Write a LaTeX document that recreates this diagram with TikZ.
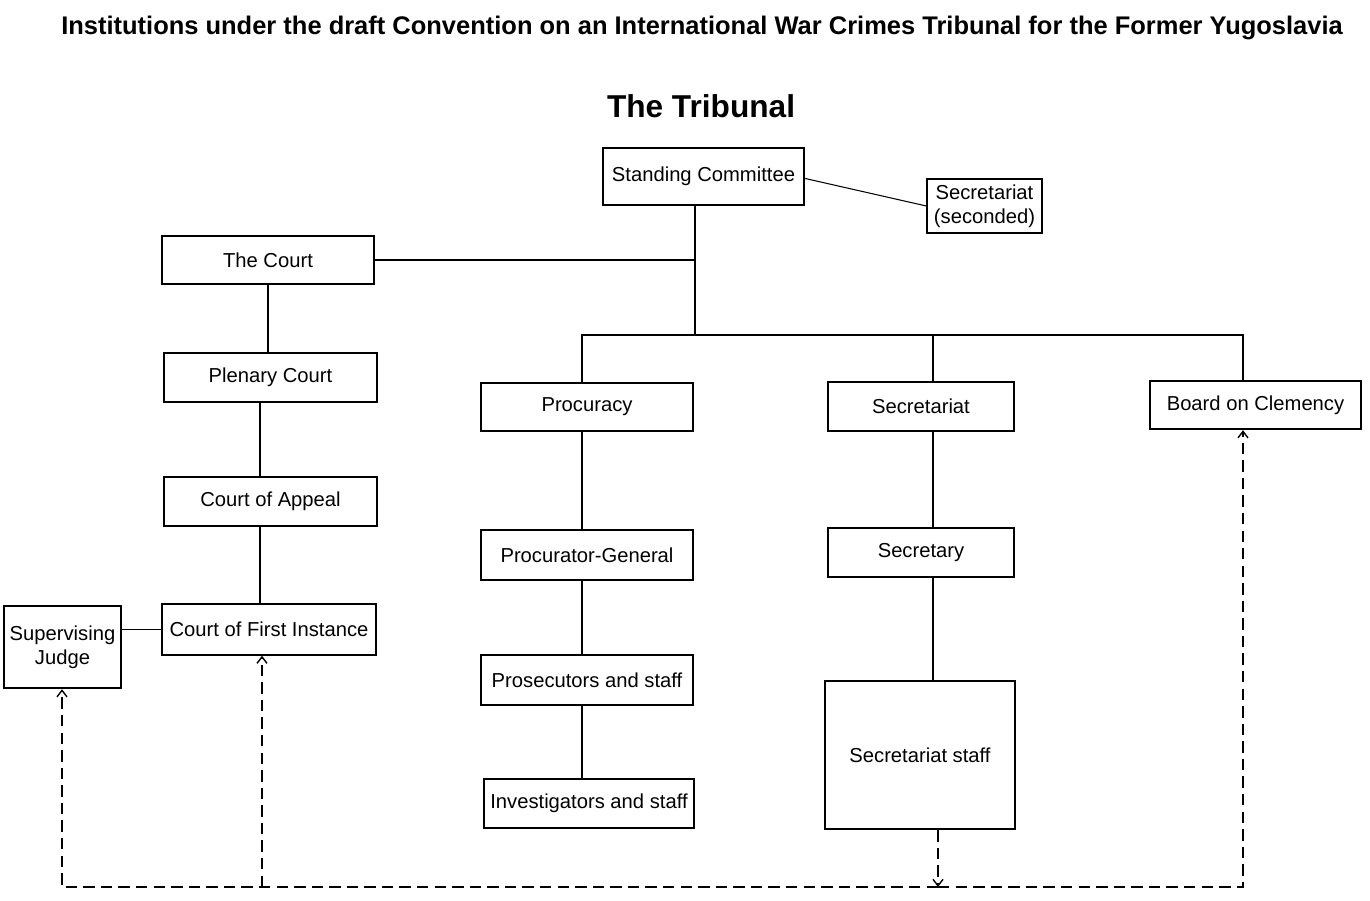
\documentclass[tikz,border=0pt]{standalone}
\usepackage{fontspec}
\setmainfont{Liberation Sans}
\usetikzlibrary{arrows.meta}

\begin{document}
\begin{tikzpicture}[x = 0.02cm, y = -0.02cm,
  box/.style = {rectangle, draw, line width = 0.8pt, align = center, inner sep = 1pt,
    font = \fontsize{11.5}{13.5}\selectfont},
  heavy/.style = {box, line width = 1.4pt},
  link/.style = {line width = 0.6pt},
  flow/.style = {line width = 0.8pt, dash pattern = on 6.5pt off 3.5pt,
    -{Straight Barb[length = 1.3mm, width = 2mm]}}]
  \useasboundingbox (0, 0) rectangle (1370, 901);

  % headings
  \node[font = \bfseries\fontsize{14.5}{17}\selectfont] (title) at (702, 28)
    {Institutions under the draft Convention on an International War Crimes Tribunal for the Former Yugoslavia};
  \node[font = \bfseries\fontsize{18}{21}\selectfont] (tribunal) at (701, 106) {The Tribunal};

  % top
  \node[heavy, minimum width = 4.02cm, minimum height = 1.14cm] (sc) at (703.5, 176.5) {Standing Committee};
  \node[box, minimum width = 2.3cm, minimum height = 1.08cm] (seconded) at (984.5, 206) {Secretariat\\(seconded)};

  % the court
  \node[heavy, minimum width = 4.24cm, minimum height = 0.96cm] (court) at (268, 260) {The Court};
  \node[box, minimum width = 4.26cm, minimum height = 0.98cm] (plenary) at (270.5, 377.5) {Plenary Court};
  \node[box, minimum width = 4.26cm, minimum height = 0.98cm] (appeal) at (270.5, 501.5) {Court of Appeal};
  \node[box, minimum width = 4.28cm, minimum height = 1.02cm] (first) at (269, 629.5) {Court of First Instance};
  \node[heavy, minimum width = 2.34cm, minimum height = 1.64cm] (judge) at (62.5, 647) {Supervising\\Judge};

  % procuracy
  \node[heavy, minimum width = 4.24cm, minimum height = 0.96cm] (procuracy) at (587, 407) {Procuracy};
  \node[box, minimum width = 4.24cm, minimum height = 1cm] (procgen) at (587, 555) {Procurator-General};
  \node[box, minimum width = 4.24cm, minimum height = 1cm] (prosec) at (587, 680) {Prosecutors and staff};
  \node[box, minimum width = 4.2cm, minimum height = 0.98cm] (invest) at (589, 803.5) {Investigators and staff};

  % secretariat
  \node[heavy, minimum width = 3.72cm, minimum height = 0.98cm] (secr) at (921, 406.5) {Secretariat};
  \node[box, minimum width = 3.72cm, minimum height = 0.98cm] (secretary) at (921, 552.5) {Secretary};
  \node[heavy, minimum width = 3.8cm, minimum height = 2.96cm] (sstaff) at (920, 755) {Secretariat staff};

  \node[heavy, minimum width = 4.22cm, minimum height = 0.96cm] (board) at (1255.5, 405) {Board on Clemency};

  % columns and junctions
  \coordinate (hub) at (695, 260);
  \coordinate (bus) at (695, 335);
  \coordinate (colA) at (268, 0);
  \coordinate (colB) at (260, 0);
  \coordinate (colP) at (582, 0);
  \coordinate (colS) at (933, 0);
  \coordinate (colR) at (1243, 0);
  \coordinate (colJ) at (62, 0);
  \coordinate (colF) at (262, 0);
  \coordinate (colD) at (938, 0);
  \coordinate (base) at (0, 887);

  % solid links
  \draw[link] (sc.south -| hub) -- (bus);
  \draw[link] (court.east) -- (hub);
  \draw[link] (sc.east) ++(0, 2) -- (seconded.west);
  \draw[link] (procuracy.north -| colP) |- (bus -| colR) -- (board.north -| colR);
  \draw[link] (bus -| colS) -- (secr.north -| colS);
  \draw[link] (court.south -| colA) -- (plenary.north -| colA);
  \foreach \a/\b in {plenary/appeal, appeal/first} {
    \draw[link] (\a.south -| colB) -- (\b.north -| colB);
  }
  \foreach \a/\b in {procuracy/procgen, procgen/prosec, prosec/invest} {
    \draw[link] (\a.south -| colP) -- (\b.north -| colP);
  }
  \foreach \a/\b in {secr/secretary, secretary/sstaff} {
    \draw[link] (\a.south -| colS) -- (\b.north -| colS);
  }
  \draw[link] (judge.east |- first.west) -- (first.west);

  % dashed flows
  \draw[flow] (sstaff.south -| colD) -- (base -| colD);
  \draw[flow] (base -| colD) -| (judge.south -| colJ);
  \draw[flow] (base -| colD) -| (board.south -| colR);
  \draw[flow] (base -| colF) -- (first.south -| colF);
\end{tikzpicture}
\end{document}
